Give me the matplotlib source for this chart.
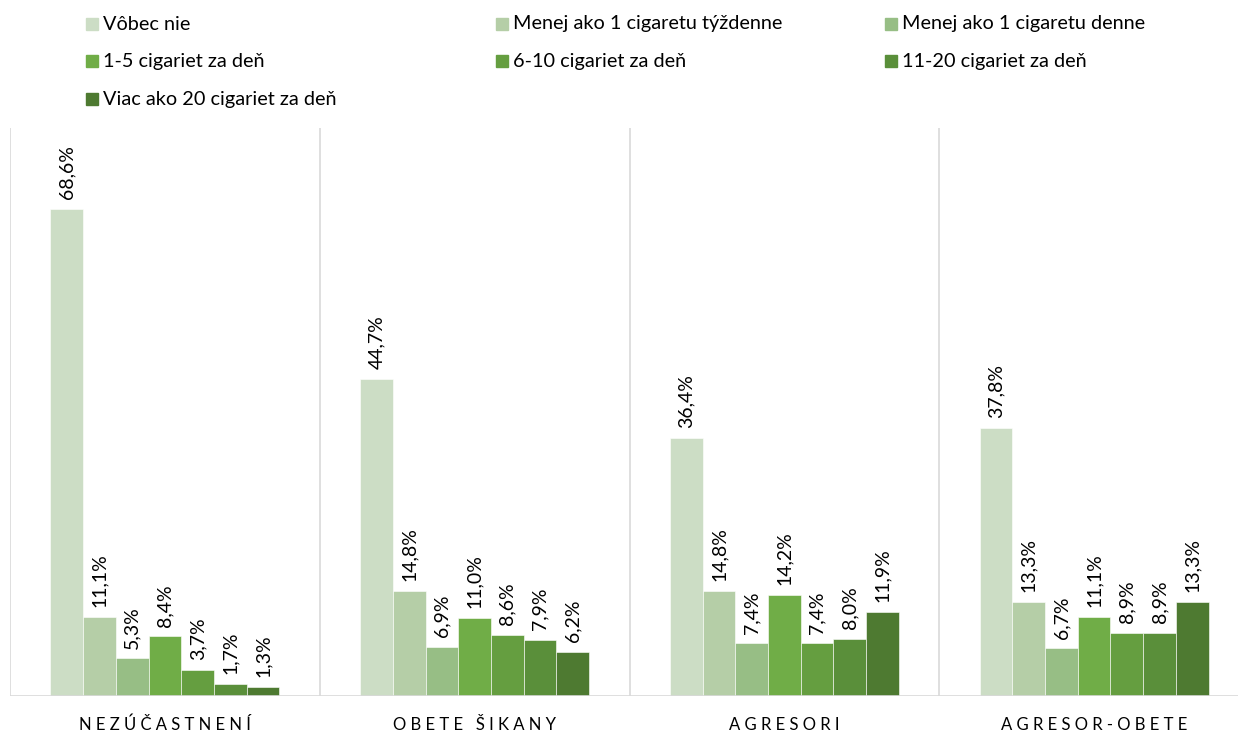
"""Smoking frequency by bullying role - grouped bar chart."""
import matplotlib.pyplot as plt
import matplotlib.patches as patches
import numpy as np

plt.rcParams['font.family'] = ['Lato', 'DejaVu Sans']

groups = ['NEZÚČASTNENÍ', 'OBETE ŠIKANY', 'AGRESORI', 'AGRESOR-OBETE']
series = ['Vôbec nie', 'Menej ako 1 cigaretu týždenne', 'Menej ako 1 cigaretu denne',
          '1-5 cigariet za deň', '6-10 cigariet za deň', '11-20 cigariet za deň',
          'Viac ako 20 cigariet za deň']
values = [
    [68.6, 44.7, 36.4, 37.8],
    [11.1, 14.8, 14.8, 13.3],
    [5.3, 6.9, 7.4, 6.7],
    [8.4, 11.0, 14.2, 11.1],
    [3.7, 8.6, 7.4, 8.9],
    [1.7, 7.9, 8.0, 8.9],
    [1.3, 6.2, 11.9, 13.3],
]
colors = ['#CCDDC5', '#B5CEA7', '#97BE85', '#70AD47', '#659E40', '#5A8F3A', '#4E7A31']

fig = plt.figure(figsize=(12.38, 7.36), dpi=100)
ax = fig.add_axes([10 / 1238, 40 / 736, 1239 / 1238, 568 / 736])

x = np.arange(len(groups))
width = 0.1055
for i, (name, vals, c) in enumerate(zip(series, values, colors)):
    pos = x + (i - 3) * width
    ax.bar(pos, vals, width, color=c, edgecolor='white', linewidth=0.4)
    for px, v in zip(pos, vals):
        ax.annotate(f'{v:.1f}%'.replace('.', ','), (px, v), xytext=(0, 7),
                    textcoords='offset points', rotation=90, ha='center',
                    va='bottom', fontsize=14, color='#000000')

ax.set_xlim(-0.5, len(groups) - 0.5)
ax.set_ylim(0, 80)
for b in np.arange(-0.5, len(groups), 1):
    ax.axvline(b, color='#D9D9D9', lw=1.2, zorder=0)
ax.axhline(0, color='#D9D9D9', lw=1.2)
for s in ax.spines.values():
    s.set_visible(False)
ax.set_yticks([])
ax.set_xticks(x)
ax.set_xticklabels([' '.join(g) for g in groups], fontsize=12)
ax.tick_params(axis='x', length=0, pad=15)

# legend, row-major in 3 columns
col_x = [88, 498, 887]
row_y = [24, 61, 99]
for i, (name, c) in enumerate(zip(series, colors)):
    cx = col_x[i % 3]
    cy = row_y[i // 3]
    fig.patches.append(patches.Rectangle(((cx - 2) / 1238, 1 - (cy + 6) / 736),
                                         12 / 1238, 12 / 736, color=c,
                                         transform=fig.transFigure))
    fig.text((cx + 15) / 1238, 1 - cy / 736, name, fontsize=14.3,
             va='center', ha='left')

fig.savefig('out.png', dpi=100)
